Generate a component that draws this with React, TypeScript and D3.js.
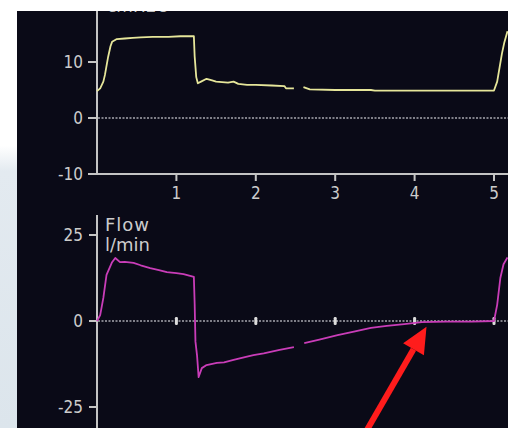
import React from 'react';
import * as d3 from 'd3';

// time axis (s)
const timeTicks = [1, 2, 3, 4, 5];

// airway pressure, cmH2O (null = gap in trace)
const pressureT = [0, 0.04, 0.08, 0.1, 0.14, 0.17, 0.19, 0.25, 0.35, 0.45, 0.55, 0.7, 0.9, 1.05, 1.22, 1.23, 1.25, 1.27, 1.31, 1.38, 1.45, 1.5, 1.65, 1.72, 1.78, 1.89, 2.0, 2.2, 2.36, 2.38, 2.48, 2.54, 2.6, 2.68, 3.0, 3.45, 3.5, 4.0, 4.5, 5.0, 5.04, 5.07, 5.1, 5.13, 5.17];
const pressureV = [4.8, 5.3, 6.5, 7.7, 10.9, 12.8, 13.6, 14.1, 14.2, 14.3, 14.4, 14.5, 14.5, 14.6, 14.6, 11.0, 7.3, 6.2, 6.5, 7.0, 6.7, 6.5, 6.3, 6.5, 6.1, 5.9, 5.9, 5.8, 5.7, 5.3, 5.3, null, 5.5, 5.1, 5.0, 5.0, 4.9, 4.9, 4.9, 4.9, 6.5, 9.0, 11.5, 13.5, 15.5];
const pressureTicks = [10, 0, -10];

// flow, l/min
const flowT = [0, 0.04, 0.08, 0.12, 0.19, 0.23, 0.29, 0.35, 0.46, 0.55, 0.67, 0.78, 0.88, 1.0, 1.09, 1.22, 1.23, 1.24, 1.26, 1.28, 1.32, 1.38, 1.51, 1.6, 1.72, 1.85, 1.97, 2.1, 2.3, 2.48, 2.54, 2.61, 2.8, 3.03, 3.25, 3.45, 3.65, 3.87, 4.09, 4.4, 4.72, 5.0, 5.04, 5.08, 5.12, 5.17];
const flowV = [0, 1.7, 6.7, 13.4, 17.1, 18.3, 17.1, 17.2, 16.9, 16.2, 15.4, 14.8, 14.2, 13.9, 13.6, 12.8, 5, -6, -10, -16.3, -13.7, -12.8, -12.2, -12.0, -11.3, -10.6, -9.9, -9.4, -8.4, -7.6, null, -6.4, -5.4, -4.1, -3.0, -2.0, -1.4, -0.9, -0.3, -0.2, -0.2, 0, 4.7, 12.5, 16.5, 18.5];
const flowTicks = [25, 0, -25];

// annotation arrow tip (time, flow)
const arrowTip = [4.15, -1.7];

const W = 508;
const H = 428;
const tickFont = '"DejaVu Sans Condensed", "DejaVu Sans", sans-serif';
const labelFont = '"DejaVu Sans", sans-serif';
const axisColor = '#c4c4c4';

export default function App() {
  const x = d3.scaleLinear().domain([0, 5]).range([97, 494]);
  const yP = d3.scaleLinear().domain([-10, 10]).range([174, 62]);
  const yF = d3.scaleLinear().domain([-25, 25]).range([407, 235]);

  const pLine = d3.line<number>()
    .defined((_, i) => pressureV[i] !== null)
    .x((_, i) => x(pressureT[i]))
    .y(d => yP(d as number));
  const fLine = d3.line<number>()
    .defined((_, i) => flowV[i] !== null)
    .x((_, i) => x(flowT[i]))
    .y(d => yF(d as number));

  // arrow geometry
  const tip = [x(arrowTip[0]), yF(arrowTip[1])];
  const dir = [0.5, -0.866];
  const headLen = 26;
  const headHalf = 12;
  const base = [tip[0] - dir[0] * headLen, tip[1] - dir[1] * headLen];
  const perp = [-dir[1], dir[0]];
  const tail = [tip[0] - dir[0] * 135, tip[1] - dir[1] * 135];
  const head = [
    tip,
    [base[0] + perp[0] * headHalf, base[1] + perp[1] * headHalf],
    [base[0] - perp[0] * headHalf, base[1] - perp[1] * headHalf],
  ].map(p => p.join(',')).join(' ');

  return (
    <svg width={W} height={H} style={{ position: 'absolute', left: 0, top: 0 }}>
      <defs>
        <linearGradient id="side" x1="0" y1="0" x2="0" y2="1">
          <stop offset="0" stopColor="#ffffff" />
          <stop offset="0.34" stopColor="#ffffff" />
          <stop offset="0.4" stopColor="#e3eaf0" />
          <stop offset="1" stopColor="#dce5ec" />
        </linearGradient>
        <clipPath id="panel">
          <rect x={17} y={11} width={W - 17} height={H - 11} />
        </clipPath>
      </defs>
      <rect x={0} y={0} width={W} height={H} fill="url(#side)" />
      <rect x={0} y={0} width={W} height={11} fill="#ffffff" />
      <rect x={17} y={11} width={W - 17} height={H - 11} fill="#0a0a17" />

      <g clipPath="url(#panel)" fontFamily={tickFont}>
        {/* pressure panel (unit label is cut off at the top edge, as in the source) */}
        <text x={107} y={12} fill="#bdbdbd" fontSize={17} fontFamily={labelFont}>cmH2O</text>
        <line x1={97} x2={97} y1={0} y2={175} stroke={axisColor} strokeWidth={2} />
        <line x1={96} x2={W} y1={174} y2={174} stroke={axisColor} strokeWidth={2} />
        <line x1={98} x2={W} y1={yP(0)} y2={yP(0)} stroke="#a8a8b0" strokeWidth={1.5} strokeDasharray="2,1.5" />
        {pressureTicks.map(t => (
          <g key={t}>
            <line x1={88} x2={97} y1={yP(t)} y2={yP(t)} stroke={axisColor} strokeWidth={2} />
            <text x={83} y={yP(t)} dy="0.36em" textAnchor="end" fill="#cccccc" fontSize={17}>{t}</text>
          </g>
        ))}
        {timeTicks.map(t => (
          <g key={t}>
            <line x1={x(t)} x2={x(t)} y1={174} y2={181} stroke={axisColor} strokeWidth={2} />
            <text x={x(t)} y={199} textAnchor="middle" fill="#cccccc" fontSize={17}>{t}</text>
          </g>
        ))}
        <path d={pLine(pressureV as number[]) || ''} fill="none" stroke="#e6e69a" strokeWidth={1.8} strokeLinejoin="round" />

        {/* flow panel */}
        <line x1={97} x2={97} y1={215} y2={H} stroke={axisColor} strokeWidth={2} />
        <line x1={98} x2={W} y1={yF(0)} y2={yF(0)} stroke="#a8a8b0" strokeWidth={1.5} strokeDasharray="2,1.5" />
        {flowTicks.map(t => (
          <g key={t}>
            <line x1={89} x2={97} y1={yF(t)} y2={yF(t)} stroke={axisColor} strokeWidth={2} />
            <text x={83} y={yF(t)} dy="0.36em" textAnchor="end" fill="#cccccc" fontSize={17}>{t}</text>
          </g>
        ))}
        {timeTicks.map(t => (
          <rect key={t} x={x(t) - 1.5} y={yF(0) - 4} width={3} height={8} rx={1.2} fill="#dcdcdc" />
        ))}
        <text x={105} y={231} fill="#cccccc" fontSize={18} letterSpacing={1} fontFamily={labelFont}>Flow</text>
        <text x={105} y={251} fill="#cccccc" fontSize={18} fontFamily={labelFont}>l/min</text>
        <path d={fLine(flowV as number[]) || ''} fill="none" stroke="#c93db8" strokeWidth={1.8} strokeLinejoin="round" />

        {/* arrow */}
        <line x1={tail[0]} y1={tail[1]} x2={base[0]} y2={base[1]} stroke="#ff1c1c" strokeWidth={6} />
        <polygon points={head} fill="#ff1c1c" />
      </g>
    </svg>
  );
}
